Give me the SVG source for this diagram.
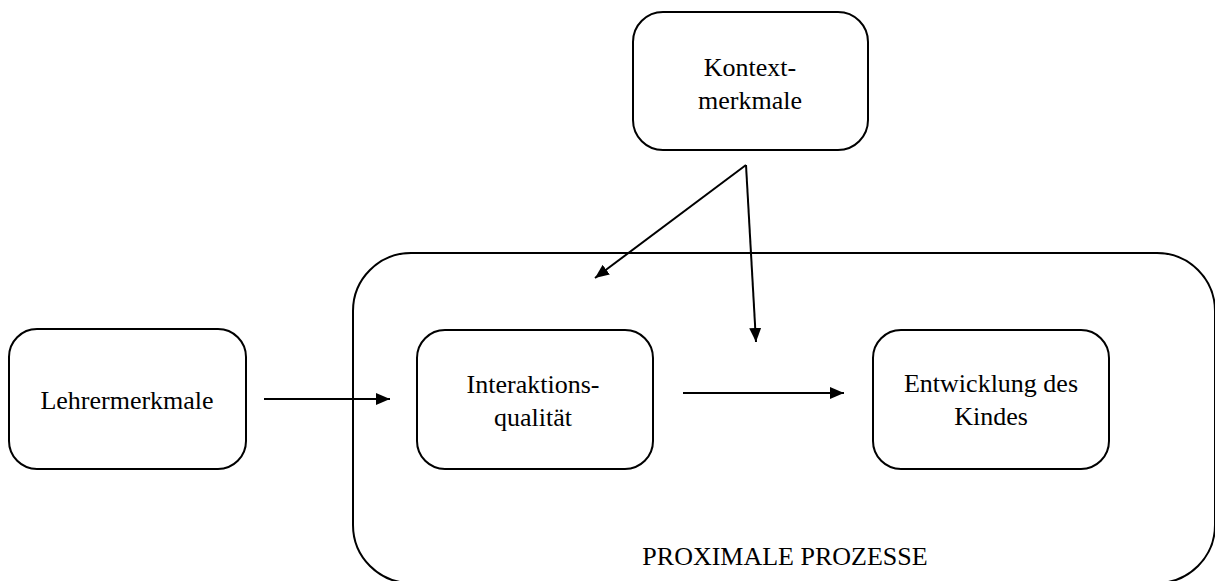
<svg xmlns="http://www.w3.org/2000/svg" width="1215" height="581" viewBox="0 0 1215 581">
<defs>
<style>
.box{fill:#fff;stroke:#000;stroke-width:2}
.t{font-family:"Liberation Serif","Times New Roman",serif;font-size:26px;fill:#000;text-anchor:middle}
.c{stroke:#000;stroke-width:2;fill:none;marker-end:url(#ah)}
</style>
<marker id="ah" viewBox="0 0 10 10" refX="10" refY="5" markerWidth="7" markerHeight="6" orient="auto" markerUnits="strokeWidth" preserveAspectRatio="none">
<path d="M0,0 L10,5 L0,10 z" fill="#000"/>
</marker>
</defs>
<rect width="1215" height="581" fill="#fff"/>
<g id="proximale">
<rect class="box" x="353" y="253" width="862" height="330" rx="58" ry="58"/>
<text class="t" x="785" y="565">PROXIMALE PROZESSE</text>
</g>
<g id="kontext">
<rect class="box" x="633" y="12" width="235" height="138" rx="30" ry="30"/>
<text class="t" x="750" y="76">Kontext-</text>
<text class="t" x="750" y="109">merkmale</text>
</g>
<g id="lehrer">
<rect class="box" x="9" y="329" width="237" height="140" rx="28" ry="28"/>
<text class="t" x="127" y="409">Lehrermerkmale</text>
</g>
<g id="interaktion">
<rect class="box" x="417" y="330" width="236" height="139" rx="28" ry="28"/>
<text class="t" x="533" y="393">Interaktions-</text>
<text class="t" x="533" y="426">qualität</text>
</g>
<g id="entwicklung">
<rect class="box" x="873" y="330" width="236" height="139" rx="28" ry="28"/>
<text class="t" x="991" y="392">Entwicklung des</text>
<text class="t" x="991" y="425">Kindes</text>
</g>
<g id="connectors">
<line class="c" x1="264" y1="399" x2="390" y2="399"/>
<line class="c" x1="683" y1="393" x2="844" y2="393"/>
<line class="c" x1="746" y1="165" x2="595" y2="278"/>
<line class="c" x1="746" y1="165" x2="756" y2="342"/>
</g>
</svg>
